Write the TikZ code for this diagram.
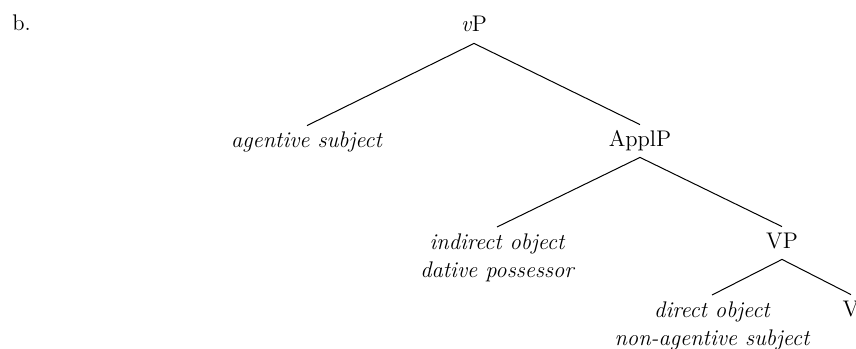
\documentclass[tikz,border=0pt]{standalone}
\begin{document}
\begin{tikzpicture}[x=0.5pt,y=-0.5pt,
  lab/.style={font=\fontsize{11.3}{14}\selectfont, inner sep=2.5pt, text height=8pt, text depth=3pt, anchor=base},
  lab2/.style={font=\fontsize{11.3}{14}\selectfont\itshape, inner sep=2.5pt, align=center, anchor=north},
  edge/.style={line width=0.5pt}]
\useasboundingbox (0,0) rectangle (856,348);
\node[font=\fontsize{11.3}{14}\selectfont, anchor=base west, inner sep=0pt] (b) at (12,31) {b.};
\node[lab] (vP) at (474,32) {\textit{v}P};
\node[lab] (agent) at (307,147) {\textit{agentive subject}};
\node[lab] (ApplP) at (640,146) {ApplP};
\node[lab2] (ind) at (497,227) {\rule{0pt}{8.5pt}indirect object\\dative possessor};
\node[lab] (VP) at (782,248) {VP};
\node[lab2] (dir) at (712,295) {\rule{0pt}{8.5pt}direct object\\non-agentive subject};
\node[lab] (V) at (851,316) {V};
\draw[edge] (vP.south) -- (agent.north);
\draw[edge] (vP.south) -- (ApplP.north);
\draw[edge] (ApplP.south) -- (ind.north);
\draw[edge] (ApplP.south) -- (VP.north);
\draw[edge] (VP.south) -- (dir.north);
\draw[edge] (VP.south) -- (V.north);
\end{tikzpicture}
\end{document}
